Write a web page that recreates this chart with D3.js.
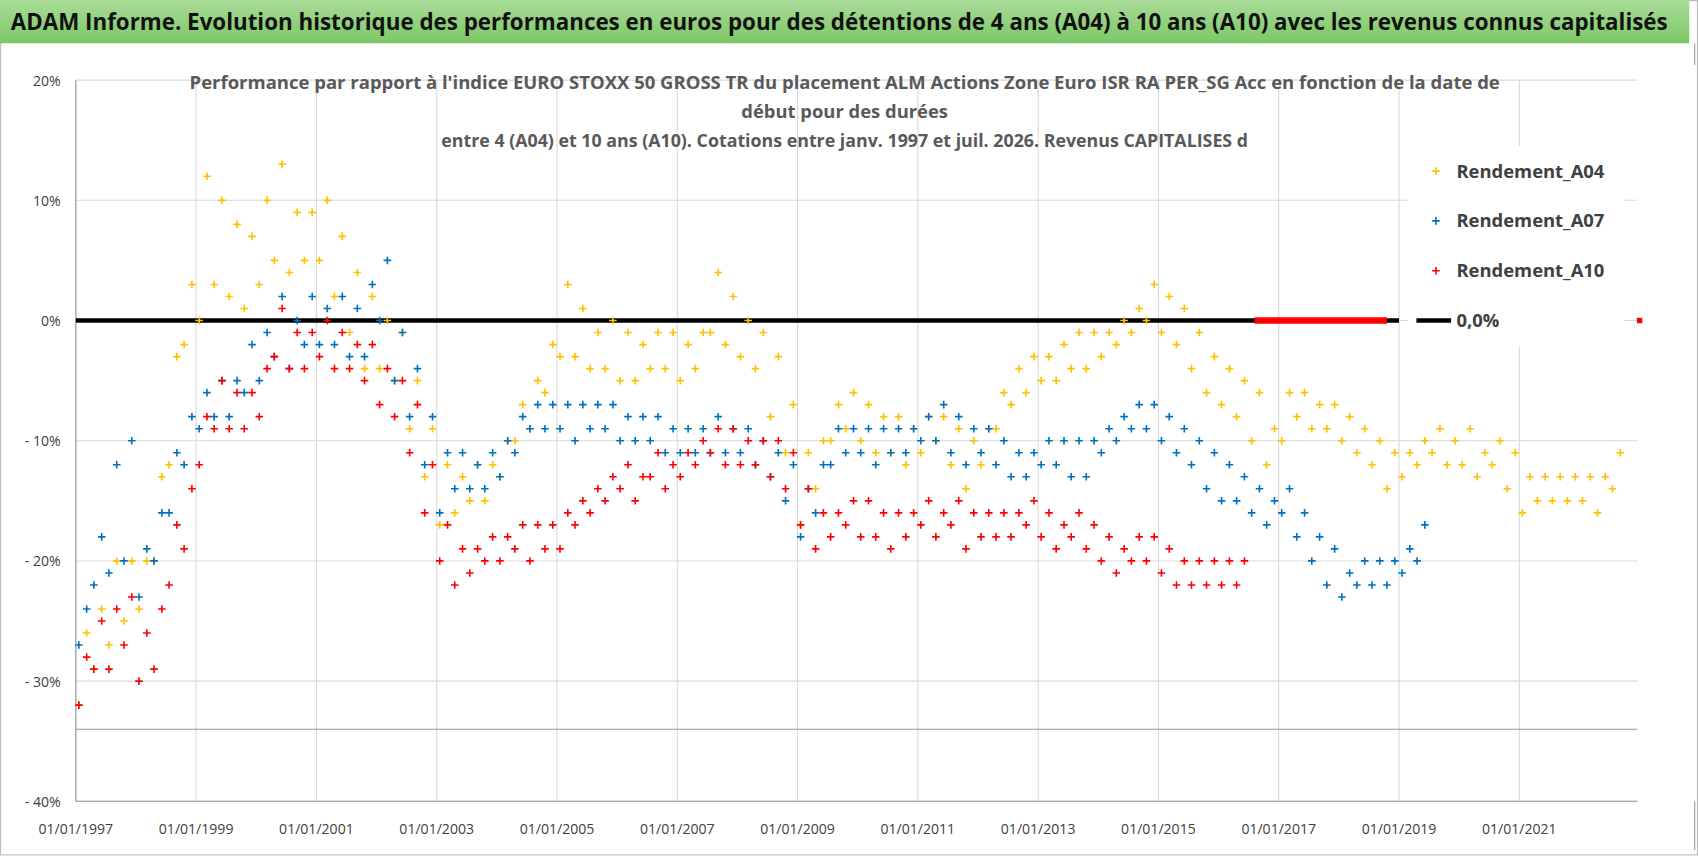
<!DOCTYPE html>
<html><head><meta charset="utf-8">
<script src="https://cdn.jsdelivr.net/npm/d3@7"></script>
<style>body{margin:0;background:#fff}text{font-family:"Liberation Sans Narrow","Open Sans",sans-serif}</style>
</head><body><svg id="c" width="1698" height="856" viewBox="0 0 1568 790.5"></svg>
<script>
const title = "ADAM Informe. Evolution historique des performances en euros pour des détentions de 4 ans (A04) à 10 ans (A10) avec les revenus connus capitalisés";
const subtitle = ["Performance par rapport à l'indice EURO STOXX 50 GROSS TR  du placement ALM Actions Zone Euro ISR RA PER_SG Acc en fonction de la date de","début pour des durées","entre 4 (A04) et 10 ans (A10).  Cotations entre janv. 1997 et juil. 2026. Revenus CAPITALISES d"];
const yTicks = [20,10,0,-10,-20,-30,-40];
const yTickLabels = ["20%","10%","0%","- 10%","- 20%","- 30%","- 40%"];
const xTickYears = [1997,1999,2001,2003,2005,2007,2009,2011,2013,2015,2017,2019,2021];
const startYear = 1997; // quarterly samples from here
const a04Lo=[-32,-29,-27,-25,-24,-20,-12,-2,0,3,2,1,3,5,4,5,5,2,-1,-4,-4,-5,-9,-13,-17,-16,-15,-15,-13,-10,-9,-6,-3,-3,-4,-4,-5,-5,-4,-4,-5,-4,-1,-2,-3,-4,-8,-11,-17,-14,-10,-9,-10,-11,-11,-12,-11,-10,-12,-14,-12,-9,-7,-6,-5,-5,-4,-4,-3,-2,-1,0,-1,-2,-4,-6,-7,-8,-10,-12,-10,-8,-9,-9,-10,-11,-12,-14,-13,-12,-11,-12,-12,-13,-12,-14,-16,-15,-15,-15,-15,-16,-14];
const a04Hi=[-26,-24,-20,-20,-20,-13,-3,3,12,10,8,7,10,13,9,9,10,7,4,2,0,-1,-5,-9,-12,-13,-12,-12,-10,-7,-5,-2,3,1,-1,0,-1,-2,-1,-1,-2,-1,4,2,0,-1,-3,-7,-11,-10,-7,-6,-7,-8,-8,-9,-8,-8,-9,-10,-9,-6,-4,-3,-3,-2,-1,-1,-1,0,1,3,2,1,-1,-3,-4,-5,-6,-9,-6,-6,-7,-7,-8,-9,-10,-11,-11,-10,-9,-10,-9,-11,-10,-11,-13,-13,-13,-13,-13,-13,-11];
const a07Lo=[-27,-22,-21,-20,-23,-20,-16,-12,-9,-8,-8,-6,-5,-3,-4,-2,-2,-2,-3,-3,0,-5,-8,-12,-16,-14,-14,-14,-13,-11,-9,-9,-9,-10,-9,-9,-10,-10,-10,-11,-11,-11,-11,-11,-11,-12,-13,-15,-18,-16,-12,-11,-11,-12,-11,-11,-10,-10,-11,-12,-11,-12,-13,-13,-12,-12,-13,-13,-11,-10,-9,-9,-10,-11,-12,-14,-15,-15,-16,-17,-16,-18,-20,-22,-23,-22,-22,-22,-21,-20];
const a07Hi=[-24,-18,-12,-10,-19,-16,-11,-8,-6,-5,-5,-2,-1,2,0,2,1,2,1,3,5,-1,-4,-8,-11,-11,-12,-11,-10,-8,-7,-7,-7,-7,-7,-7,-8,-8,-8,-9,-9,-9,-8,-9,-9,-10,-11,-12,-14,-12,-9,-9,-9,-9,-9,-9,-8,-7,-8,-9,-9,-10,-11,-11,-10,-10,-10,-10,-9,-8,-7,-7,-8,-9,-10,-11,-12,-13,-14,-15,-14,-16,-18,-19,-21,-20,-20,-20,-19,-17];
const a10Lo=[-32,-29,-29,-27,-30,-29,-22,-19,-12,-9,-9,-9,-8,-3,-4,-4,-3,-4,-4,-5,-7,-8,-11,-16,-20,-22,-21,-20,-20,-19,-20,-19,-19,-17,-16,-15,-14,-15,-13,-14,-13,-12,-11,-12,-12,-12,-13,-14,-17,-19,-18,-17,-18,-18,-19,-18,-17,-18,-17,-19,-18,-18,-18,-17,-18,-19,-18,-19,-20,-21,-20,-20,-21,-22,-22,-22,-22,-22];
const a10Hi=[-28,-25,-24,-23,-26,-24,-17,-14,-8,-5,-6,-6,-4,1,-1,-1,0,-1,-2,-2,-4,-5,-7,-12,-17,-19,-19,-18,-18,-17,-17,-17,-16,-15,-14,-13,-12,-13,-11,-12,-11,-10,-9,-9,-10,-10,-10,-11,-14,-16,-16,-15,-15,-16,-16,-16,-15,-16,-15,-16,-16,-16,-16,-15,-16,-17,-16,-17,-18,-19,-18,-18,-19,-20,-20,-20,-20,-20];
const zeroLineRange=[1997,2019];
const redZeroRange=[2016.6,2018.8];
const redZeroPoint=[2023.0,0];
const seriesNames=["Rendement_A04","Rendement_A07","Rendement_A10"];
const colors=["#FFC000","#0070C0","#FF0000"];

const svg=d3.select("#c");
svg.append("rect").attr("x",0.5).attr("y",0.5).attr("width",1567).attr("height",789).attr("fill","#fff").attr("stroke","#bbb");
const g0=svg.append("defs").append("linearGradient").attr("id","gb").attr("x1",0).attr("x2",0).attr("y1",0).attr("y2",1);
g0.append("stop").attr("offset",0).attr("stop-color","#a9dc97");
g0.append("stop").attr("offset",1).attr("stop-color","#7cc767");
svg.append("rect").attr("x",0).attr("y",0).attr("width",1560).attr("height",40).attr("fill","url(#gb)");
svg.append("text").attr("x",10).attr("y",28).attr("font-size",21).attr("font-weight","bold").attr("fill","#111")
 .attr("textLength",1530).attr("lengthAdjust","spacingAndGlyphs").text(title);

const x=d3.scaleLinear().domain([1997,2021]).range([70,1403]);
const y=d3.scaleLinear().domain([-40,20]).range([740,74]);

svg.append("g").selectAll("line").data(yTicks).join("line")
 .attr("x1",70).attr("x2",1512).attr("y1",d=>y(d)).attr("y2",d=>y(d)).attr("stroke","#d9d9d9");
svg.append("g").selectAll("line").data(xTickYears).join("line")
 .attr("x1",d=>x(d)).attr("x2",d=>x(d)).attr("y1",y(20)).attr("y2",y(-40)).attr("stroke","#d9d9d9");
svg.append("line").attr("x1",70).attr("x2",1512).attr("y1",y(-34)).attr("y2",y(-34)).attr("stroke","#999");
svg.append("line").attr("x1",70).attr("x2",1512).attr("y1",y(-40)).attr("y2",y(-40)).attr("stroke","#999");
svg.append("line").attr("x1",70).attr("x2",70).attr("y1",y(20)).attr("y2",y(-40)).attr("stroke","#999");

svg.append("g").selectAll("text").data(yTicks).join("text")
 .attr("x",56).attr("y",d=>y(d)+5).attr("text-anchor","end").attr("font-size",13).attr("fill","#404040")
 .text((d,i)=>yTickLabels[i]);
svg.append("g").selectAll("text").data(xTickYears).join("text")
 .attr("x",d=>x(d)).attr("y",770).attr("text-anchor","middle").attr("font-size",13).attr("fill","#404040")
 .text(d=>"01/01/"+d);

const subLen=[1210,null,745];
svg.append("g").selectAll("text").data(subtitle).join("text")
 .attr("x",780).attr("y",(d,i)=>82+i*27).attr("text-anchor","middle").attr("font-size",17)
 .attr("font-weight","bold").attr("fill","#595959")
 .each(function(d,i){ if(subLen[i]) d3.select(this).attr("textLength",subLen[i]).attr("lengthAdjust","spacingAndGlyphs"); })
 .text(d=>d);

const lg=svg.append("g");
lg.append("rect").attr("x",1300).attr("y",135).attr("width",200).attr("height",185).attr("fill","#fff");

svg.append("line").attr("x1",x(zeroLineRange[0])).attr("x2",x(zeroLineRange[1])).attr("y1",y(0)).attr("y2",y(0)).attr("stroke","#000").attr("stroke-width",4);
svg.append("line").attr("x1",x(redZeroRange[0])).attr("x2",x(redZeroRange[1])).attr("y1",y(0)).attr("y2",y(0)).attr("stroke","#f00").attr("stroke-width",6);
svg.append("rect").attr("x",x(redZeroPoint[0])-2.5).attr("y",y(0)-2.5).attr("width",5).attr("height",5).attr("fill","#f00");

function plus(sel,col){sel.attr("d","M-3.5,0H3.5M0,-3.5V3.5").attr("stroke",col).attr("stroke-width",1.5).attr("fill","none");}
const sets=[[a04Lo,a04Hi],[a07Lo,a07Hi],[a10Lo,a10Hi]];
sets.forEach(([lo,hi],k)=>{
  const pts=[];
  lo.forEach((v,i)=>{const t=startYear+i*0.25;pts.push([t+0.05,v]);pts.push([t+0.18,hi[i]]);});
  svg.append("g").selectAll("path").data(pts).join("path")
   .attr("transform",d=>`translate(${x(d[0])},${y(d[1])})`).call(plus,colors[k]);
});

const lg2=svg.append("g");
seriesNames.forEach((n,i)=>{
  const yy=158+i*46;
  lg2.append("path").attr("transform",`translate(1326,${yy})`).call(plus,colors[i]);
  lg2.append("text").attr("x",1345).attr("y",yy+6).attr("font-size",17).attr("font-weight","bold").attr("fill","#404040").text(n);
});
lg2.append("line").attr("x1",1308).attr("x2",1340).attr("y1",296).attr("y2",296).attr("stroke","#000").attr("stroke-width",4);
lg2.append("text").attr("x",1345).attr("y",302).attr("font-size",17).attr("font-weight","bold").attr("fill","#404040").text("0,0%");
svg.append("line").attr("x1",1565).attr("x2",1565).attr("y1",40).attr("y2",60).attr("stroke","#999");
svg.append("line").attr("x1",1565).attr("x2",1565).attr("y1",740).attr("y2",785).attr("stroke","#999");
</script></body></html>
